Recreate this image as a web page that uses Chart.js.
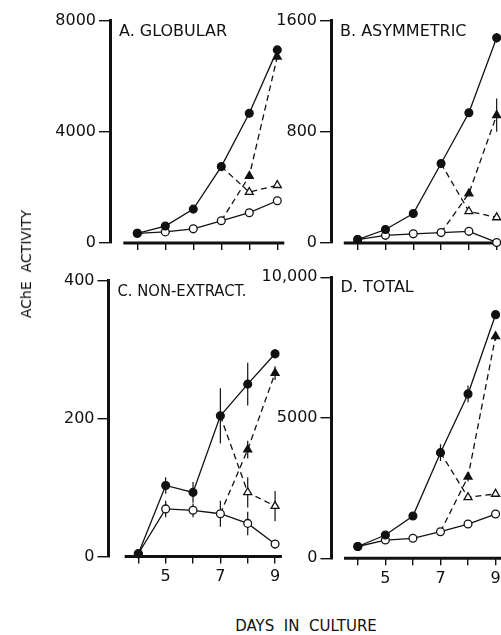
<!DOCTYPE html>
<html>
<head>
<meta charset="utf-8">
<script src="https://cdn.jsdelivr.net/npm/chart.js@4.4.1/dist/chart.umd.min.js"></script>
<style>
html, body { margin: 0; padding: 0; background: #fff; overflow: hidden; }
body { width: 501px; height: 635px; position: relative; }
canvas { position: absolute; }
.lbl { position: absolute; font-family: "DejaVu Sans"; color: #111; white-space: pre; }
#ylabel { left: 25.5px; top: 264px; font-size: 14px; transform: translate(-50%, -50%) rotate(-90deg); }
#xlabel { left: 306px; top: 626px; font-size: 15px; transform: translate(-50%, -50%); }
</style>
</head>
<body>
<canvas id="panelA"></canvas>
<canvas id="panelB"></canvas>
<canvas id="panelC"></canvas>
<canvas id="panelD"></canvas>
<div class="lbl" id="ylabel">AChE  ACTIVITY</div>
<div class="lbl" id="xlabel">DAYS  IN  CULTURE</div>
<script>
// dias em cultura
const days = [4, 5, 6, 7, 8, 9];
const daysLate = [7, 8, 9];
const xLabelsTop = ['', '', '', '', '', ''];
const xLabelsBottom = ['', '5', '', '7', '', '9'];

// A. Globular
const globFilled = [350, 610, 1220, 2750, 4670, 6950];
const globOpen = [350, 400, 510, 800, 1090, 1520];
const globFilledTri = [800, 2410, 6700];
const globOpenTri = [2750, 1830, 2080];
const yTicksA = [0, 4000, 8000];
const yLabelsA = ['0', '4000', '8000'];

// B. Asymmetric
const asymFilled = [25, 97, 212, 572, 937, 1477];
const asymOpen = [25, 55, 66, 75, 84, 4];
const asymFilledTri = [75, 356, 920];
const asymOpenTri = [572, 228, 184];
const asymFilledErr = [0, 0, 0, 0, 30, 35];
const asymFilledTriErr = [0, 0, 120];
const yTicksB = [0, 800, 1600];
const yLabelsB = ['0', '800', '1600'];

// C. Non-extract.
const nonexFilled = [4, 103, 93, 204, 250, 294];
const nonexOpen = [4, 69, 67, 62, 48, 18];
const nonexFilledTri = [62, 155, 266];
const nonexOpenTri = [204, 93, 73];
const nonexFilledErr = [0, 12, 15, 40, 31, 7];
const nonexOpenErr = [0, 12, 10, 19, 17, 0];
const nonexFilledTriErr = [0, 13, 10];
const nonexOpenTriErr = [0, 22, 22];
const yTicksC = [0, 200, 400];
const yLabelsC = ['0', '200', '400'];

// D. Total
const totFilled = [420, 828, 1503, 3760, 5850, 8670];
const totOpen = [420, 650, 711, 945, 1219, 1574];
const totFilledTri = [945, 2900, 7900];
const totOpenTri = [3760, 2168, 2290];
const totFilledErr = [0, 0, 0, 300, 300, 100];
const totFilledTriErr = [0, 170, 150];
const yTicksD = [0, 5000, 10000];
const yLabelsD = ['0', '5000', '10,000'];

Chart.defaults.font.family = '"DejaVu Sans"';
Chart.defaults.color = '#111';

const ink = '#111';

// linha do eixo x (começa separada do eixo y)
const axisLine = {
    id: 'axisLine',
    beforeDatasetsDraw(chart, args, opts) {
        const { ctx, scales: { x, y } } = chart;
        ctx.save();
        ctx.strokeStyle = ink;
        ctx.lineWidth = 3;
        ctx.beginPath();
        ctx.moveTo(x.getPixelForValue(opts.from), y.getPixelForValue(0));
        ctx.lineTo(x.getPixelForValue(opts.to), y.getPixelForValue(0));
        ctx.stroke();
        ctx.restore();
    }
};

// barras de erro verticais
const errorBars = {
    id: 'errorBars',
    beforeDatasetsDraw(chart) {
        const { ctx, scales: { x, y } } = chart;
        ctx.save();
        ctx.strokeStyle = ink;
        ctx.lineWidth = 1.2;
        chart.data.datasets.forEach(ds => {
            if (!ds.errors) return;
            ds.data.forEach((p, i) => {
                const e = ds.errors[i];
                if (!e) return;
                const px = x.getPixelForValue(p.x);
                ctx.beginPath();
                ctx.moveTo(px, y.getPixelForValue(p.y - e));
                ctx.lineTo(px, y.getPixelForValue(p.y + e));
                ctx.stroke();
            });
        });
        ctx.restore();
    }
};

// título dentro do painel
const panelTitle = {
    id: 'panelTitle',
    afterDraw(chart, args, opts) {
        const { ctx, chartArea } = chart;
        ctx.save();
        ctx.font = '16px "DejaVu Sans"';
        ctx.fillStyle = ink;
        ctx.textBaseline = 'middle';
        ctx.fillText(opts.text, chartArea.left + 9, chartArea.top + 11, opts.maxWidth);
        ctx.restore();
    }
};

function toPoints(xs, vals) {
    return xs.map((d, i) => ({ x: d, y: vals[i] }));
}

function circles(vals, filled, errs) {
    return {
        data: toPoints(days, vals),
        borderColor: ink,
        borderWidth: 1.3,
        pointStyle: 'circle',
        pointRadius: 3.9,
        pointBorderWidth: 1.3,
        pointBorderColor: ink,
        pointBackgroundColor: filled ? ink : '#fff',
        errors: errs,
        clip: false
    };
}

function triangles(vals, filled, errs) {
    return {
        data: toPoints(daysLate, vals),
        borderColor: ink,
        borderWidth: 1.3,
        borderDash: [6, 4],
        pointStyle: 'triangle',
        pointRadius: [0, 4.6, 4.6],
        pointBorderWidth: 1.3,
        pointBorderColor: ink,
        pointBackgroundColor: filled ? ink : '#fff',
        errors: errs,
        clip: false
    };
}

function makePanel(id, box, area, xMin, xMax, yTicks, yLabels, xLabels, title, titleWidth, datasets) {
    const canvas = document.getElementById(id);
    canvas.width = box.w;
    canvas.height = box.h;
    canvas.style.left = box.x + 'px';
    canvas.style.top = box.y + 'px';
    canvas.style.width = box.w + 'px';
    canvas.style.height = box.h + 'px';

    const yWidth = area.l - box.x;
    const xHeight = box.y + box.h - area.b;

    return new Chart(canvas.getContext('2d'), {
        type: 'line',
        data: { datasets: datasets },
        plugins: [axisLine, errorBars, panelTitle],
        options: {
            responsive: false,
            animation: false,
            events: [],
            layout: {
                padding: { left: 0, top: area.t - box.y, right: box.x + box.w - area.r, bottom: 0 }
            },
            plugins: {
                legend: { display: false },
                tooltip: { enabled: false },
                axisLine: { from: 3.5, to: 9.25 },
                panelTitle: { text: title, maxWidth: titleWidth }
            },
            scales: {
                x: {
                    type: 'linear',
                    min: xMin,
                    max: xMax,
                    afterBuildTicks: s => { s.ticks = days.map(v => ({ value: v })); },
                    afterFit: s => { s.height = xHeight; },
                    ticks: {
                        callback: (v, i) => xLabels[i],
                        font: { size: 16 },
                        color: ink,
                        padding: 4,
                        maxRotation: 0,
                        autoSkip: false
                    },
                    grid: { drawOnChartArea: false, tickLength: 7, color: ink, lineWidth: 1.4 },
                    border: { display: false }
                },
                y: {
                    type: 'linear',
                    min: yTicks[0],
                    max: yTicks[yTicks.length - 1],
                    afterBuildTicks: s => { s.ticks = yTicks.map(v => ({ value: v })); },
                    afterFit: s => { s.width = yWidth; },
                    ticks: {
                        callback: (v, i) => yLabels[i],
                        font: { size: 16 },
                        color: ink,
                        padding: 3,
                        autoSkip: false
                    },
                    grid: { drawOnChartArea: false, tickLength: 11, color: ink, lineWidth: 1.4 },
                    border: { display: true, color: ink, width: 3 }
                }
            }
        }
    });
}

makePanel('panelA',
    { x: 30, y: 0, w: 260, h: 262 }, { l: 110, t: 20.7, r: 284, b: 243 },
    3.025, 9.24, yTicksA, yLabelsA, xLabelsTop, 'A. GLOBULAR', 108,
    [circles(globFilled, true), circles(globOpen, false),
     triangles(globFilledTri, true), triangles(globOpenTri, false)]);

makePanel('panelB',
    { x: 262, y: 0, w: 250, h: 262 }, { l: 331, t: 20.7, r: 505, b: 243 },
    3.04, 9.3, yTicksB, yLabelsB, xLabelsTop, 'B. ASYMMETRIC', 128,
    [circles(asymFilled, true, asymFilledErr), circles(asymOpen, false),
     triangles(asymFilledTri, true, asymFilledTriErr), triangles(asymOpenTri, false)]);

makePanel('panelC',
    { x: 30, y: 262, w: 260, h: 330 }, { l: 108.5, t: 280.7, r: 283, b: 556.5 },
    2.91, 9.29, yTicksC, yLabelsC, xLabelsBottom, 'C. NON-EXTRACT.', 129,
    [circles(nonexFilled, true, nonexFilledErr), circles(nonexOpen, false, nonexOpenErr),
     triangles(nonexFilledTri, true, nonexFilledTriErr), triangles(nonexOpenTri, false, nonexOpenTriErr)]);

makePanel('panelD',
    { x: 262, y: 262, w: 250, h: 330 }, { l: 331.5, t: 277.3, r: 505.5, b: 558.3 },
    3.045, 9.36, yTicksD, yLabelsD, xLabelsBottom, 'D. TOTAL', 74,
    [circles(totFilled, true, totFilledErr), circles(totOpen, false),
     triangles(totFilledTri, true, totFilledTriErr), triangles(totOpenTri, false)]);
</script>
</body>
</html>
